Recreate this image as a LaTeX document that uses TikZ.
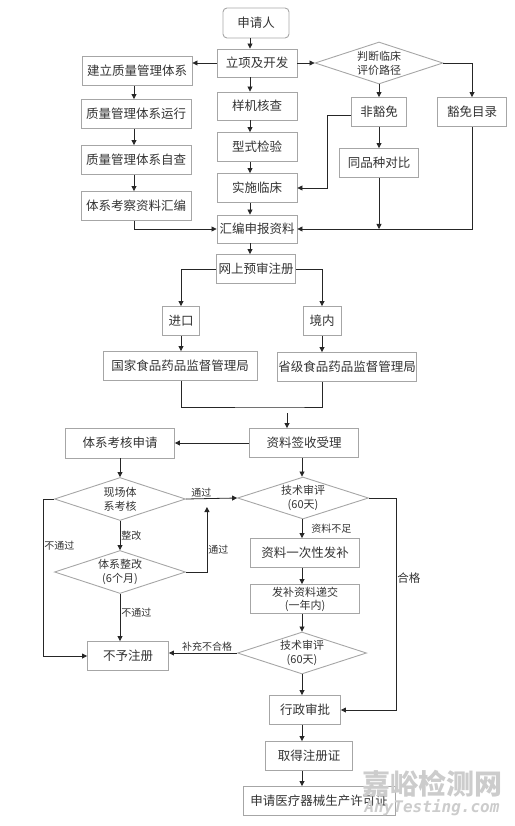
\documentclass[tikz,border=0pt]{standalone}
\usepackage{fontspec}
\setmainfont{Noto Sans CJK SC}
\newfontfamily\wmlat{DejaVu Sans Mono}
\usetikzlibrary{shapes.geometric,arrows.meta}

\begin{document}
\begin{tikzpicture}[x=1pt,y=-1pt,line width=0.8pt,color=black!85,
  >={Triangle[length=5pt,width=5pt]},
  box/.style={draw=black!35,line width=0.9pt,text=black!80,minimum height=29pt,inner sep=1pt,align=center,font=\fontsize{12.5}{14}\selectfont},
  dia/.style={box,diamond,aspect=3,inner sep=0pt,font=\fontsize{11}{14}\selectfont},
  lab/.style={text=black!80,inner sep=1pt,font=\fontsize{10}{12}\selectfont}]
\useasboundingbox (0,0) rectangle (514,826);

\node[box,rounded corners=4pt,minimum width=66pt,minimum height=30pt] (shenqing) at (256,23) {申请人};
\node[box,minimum width=80pt,minimum height=28pt] (lixiang) at (257,63) {立项及开发};
\node[box,minimum width=80pt,minimum height=28pt] (yangji) at (257,106) {样机核查};
\node[box,minimum width=80pt] (xingshi) at (257,147) {型式检验};
\node[box,minimum width=80pt] (shishi) at (257,188) {实施临床};
\node[box,minimum width=80pt,minimum height=28pt] (huibian) at (257,229) {汇编申报资料};
\node[box,minimum width=110pt] (jianli) at (137,71) {建立质量管理体系};
\node[box,minimum width=110pt] (yunxing) at (136,114) {质量管理体系运行};
\node[box,minimum width=110pt] (zicha) at (136,160) {质量管理体系自查};
\node[box,minimum width=110pt] (kaocha) at (136,206) {体系考察资料汇编};
\node[dia,minimum width=128pt,minimum height=42pt] (panduan) at (379,63) {判断临床\\评价路径};
\node[box,minimum width=55pt] (feihuomian) at (379,112) {非豁免};
\node[box,minimum width=69pt] (huomian) at (472,112) {豁免目录};
\node[box,minimum width=79pt] (tongpin) at (379,163) {同品种对比};

\node[box,minimum width=79pt] (wangshang) at (256,269) {网上预审注册};
\node[box,minimum width=37pt] (jinkou) at (181,321) {进口};
\node[box,minimum width=38pt] (jingnei) at (322,321) {境内};
\node[box,minimum width=154pt] (guojia) at (180,366) {国家食品药品监督管理局};
\node[box,minimum width=138pt] (shengji) at (347,367) {省级食品药品监督管理局};
\coordinate (merge) at (287,407);

\node[box,minimum width=109pt] (qianshou) at (304,443) {资料签收受理};
\node[box,minimum width=109pt,minimum height=30pt] (tixi) at (120,443) {体系考核申请};
\node[dia,minimum width=131pt,minimum height=43pt] (xianchang) at (120,499) {现场体\\系考核};
\node[dia,minimum width=131pt,minimum height=42pt] (jishu1) at (303,498) {技术审评\\(60天)};
\node[dia,minimum width=131pt,minimum height=43pt] (zhenggai) at (120,572) {体系整改\\(6个月)};
\node[box,minimum width=109pt] (fabu) at (305,553) {资料一次性发补};
\node[box,minimum width=109pt,font=\fontsize{11}{13}\selectfont] (dijiao) at (305,599) {发补资料递交\\(一年内)};
\node[dia,minimum width=129pt,minimum height=42pt] (jishu2) at (302,653) {技术审评\\(60天)};
\node[box,minimum width=81pt] (buyu) at (128,656) {不予注册};
\node[box,minimum width=71pt] (xingzheng) at (305,710) {行政审批};
\node[box,minimum width=87pt] (qude) at (309,756) {取得注册证};
\node[box,minimum width=152pt] (shengchan) at (319,801) {申请医疗器械生产许可证};

\coordinate (ccol) at (250,0);
\coordinate (lcol) at (134,0);
\coordinate (rcol) at (302,0);

\foreach \a/\b in {shenqing/lixiang,lixiang/yangji,yangji/xingshi,xingshi/shishi,shishi/huibian,huibian/wangshang}
  \draw[->] (\a.south -| ccol) -- (\b.north -| ccol);
\foreach \a/\b in {jianli/yunxing,yunxing/zicha,zicha/kaocha}
  \draw[->] (\a.south -| lcol) -- (\b.north -| lcol);
\foreach \a/\b in {qianshou/jishu1,fabu/dijiao,dijiao/jishu2,jishu2/xingzheng,xingzheng/qude,qude/shengchan}
  \draw[->] (\a.south -| rcol) -- (\b.north -| rcol);

\draw[->] (lixiang.west) -- (lixiang.west -| jianli.east);
\draw[->] (lixiang.east) -- (panduan.west);
\draw[->] (panduan.east) -| (huomian.north);
\draw[->] (panduan.south) -- (feihuomian.north);
\draw[->] (feihuomian.south) -- (tongpin.north);
\draw[->] ([yshift=-3pt]feihuomian.west) -- ++(-24,0) |- (shishi.east);
\draw[->] (kaocha.south -| lcol) |- (huibian.west);
\draw[->] (huomian.south) |- (huibian.east);
\draw[->] (tongpin.south) -- (tongpin.south |- huibian.east);

\draw[->] (wangshang.west) -| (jinkou.north);
\draw[->] (wangshang.east) -| (jingnei.north);
\draw[->] (jinkou.south) -- (jinkou.south |- guojia.north);
\draw[->] (jingnei.south) -- (jingnei.south |- shengji.north);
\draw (guojia.south -| jinkou) |- (merge) -| (shengji.south -| jingnei);
\draw[->] ([yshift=-6pt]merge) -- (merge |- qianshou.north);

\draw[->] (qianshou.west) -- (tixi.east);
\draw[->] (tixi.south) -- (xianchang.north);
\draw[->] (xianchang.east) -- node[lab,above,pos=0.3]{通过} (jishu1.west);
\draw[->] (xianchang.south) -- node[lab,right]{整改} (zhenggai.north);
\draw[->] (zhenggai.east) -- ++(21,0) -- node[lab,right,pos=0.35]{通过} ++(0,-65);
\draw[->] (zhenggai.south) -- node[lab,right,pos=0.4]{不通过} (zhenggai.south |- buyu.north);
\draw[->] (xianchang.west) -- ++(-11,0) |- node[lab,right,pos=0.15]{不通过} (buyu.west);
\draw[->] (jishu1.south -| rcol) -- node[lab,right,xshift=8pt]{资料不足} (fabu.north -| rcol);
\draw[->] (jishu2.west) -- node[lab,above,pos=0.44]{补充不合格} (jishu2.west -| buyu.east);
\draw[->] (jishu1.east) -- ++(27,0) |- node[lab,right,pos=0.19,font=\fontsize{11.5}{13}\selectfont]{合格} (xingzheng.east);

\node[text=black!20,font=\fontsize{28}{30}\selectfont\bfseries] (wm) at (432,784) {嘉峪检测网};
\node[text=black!20,font=\wmlat\itshape\bfseries\fontsize{16}{18}\selectfont] (wmurl) at (432,808) {AnyTesting.com};
\end{tikzpicture}
\end{document}
